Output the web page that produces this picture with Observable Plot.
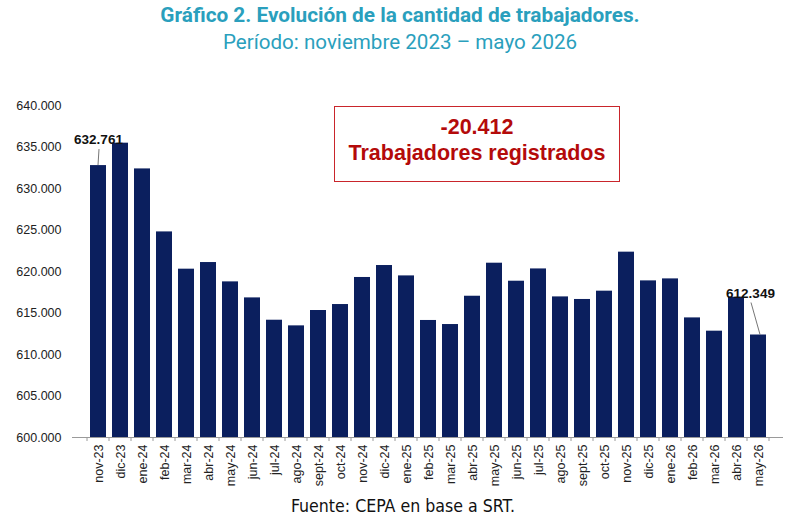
<!DOCTYPE html>
<html><head><meta charset="utf-8">
<script src="https://cdn.jsdelivr.net/npm/d3@7"></script>
<script src="https://cdn.jsdelivr.net/npm/@observablehq/plot@0.6"></script>
<style>
body{margin:0;background:#fff;}
#wrap{position:relative;width:800px;height:524px;overflow:hidden;background:#fff;}
.t{position:absolute;left:0;width:800px;text-align:center;font-family:Roboto,sans-serif;color:#2a9fbd;white-space:nowrap;line-height:1;}
#title{top:5px;font-size:20.8px;font-weight:700;}
#sub{top:32px;font-size:20.6px;font-weight:400;}
#box{position:absolute;left:334px;top:106px;width:286px;height:76px;border:1.5px solid #c9252b;box-sizing:border-box;
  font-family:"Liberation Sans",Arial,sans-serif;font-weight:700;color:#b40a0a;text-align:center;font-size:21.5px;line-height:1;}
#box div{position:absolute;left:0;width:100%;}
#cap{position:absolute;left:0;width:806px;text-align:center;top:498px;font-family:"Liberation Sans Narrow","DejaVu Sans Condensed",sans-serif;font-stretch:condensed;font-size:17.6px;color:#111;line-height:1;}
#chart{position:absolute;left:0;top:0;}
</style></head>
<body>
<div id="wrap">
  <div id="chart"></div>
  <div class="t" id="title">Gráfico 2. Evolución de la cantidad de trabajadores.</div>
  <div class="t" id="sub">Período: noviembre 2023 – mayo 2026</div>
  <div id="box"><div style="top:10px">-20.412</div><div style="top:36px">Trabajadores registrados</div></div>
  <div id="cap">Fuente: CEPA en base a SRT.</div>
</div>
<script>
const months = ["nov-23","dic-23","ene-24","feb-24","mar-24","abr-24","may-24","jun-24","jul-24","ago-24","sept-24","oct-24","nov-24","dic-24","ene-25","feb-25","mar-25","abr-25","may-25","jun-25","jul-25","ago-25","sept-25","oct-25","nov-25","dic-25","ene-26","feb-26","mar-26","abr-26","may-26"];
const workers = [632761,635460,632360,624770,620280,621080,618750,616820,614130,613450,615300,616020,619280,620720,619470,614100,613610,617020,621000,618830,620310,616940,616630,617630,622330,618870,619110,614410,612810,616900,612349];
const yTicks = [600000,605000,610000,615000,620000,625000,630000,635000,640000];
const yMin = 600000, yMax = 640000;

const data = months.map((m,i)=>({m, v: workers[i]}));
const fmt = d3.formatLocale({decimal:",",thousands:".",grouping:[3],currency:["$",""]}).format(",");
const first = data[0], last = data[data.length-1];

const plot = Plot.plot({
  width: 800, height: 524,
  marginTop: 105, marginBottom: 87, marginLeft: 72, marginRight: 17,
  style: {fontFamily: '"Liberation Sans", Arial, sans-serif', background: "transparent"},
  x: {domain: months, paddingInner: 0.29, paddingOuter: 0.145, label: null},
  y: {domain: [yMin, yMax], label: null},
  marks: [
    Plot.barY(data, {x: "m", y1: () => yMin, y2: "v", fill: "#0b1f5e"}),
    Plot.ruleY([yMin], {stroke: "#9a9a9a", strokeWidth: 1}),
    Plot.axisY({ticks: yTicks, tickFormat: fmt, tickSize: 0, tickPadding: 11, fontSize: 12.5, fill: "#222"}),
    Plot.axisX({tickSize: 0, tickRotate: -90, tickPadding: 7, fontSize: 12.5, fill: "#222"}),
    Plot.text([first], {x: "m", y: "v", text: d => fmt(d.v), lineAnchor: "bottom", dy: -22, fontWeight: 700, fontSize: 13.5, fill: "#111"}),
    Plot.text([last], {x: "m", y: "v", text: d => fmt(d.v), lineAnchor: "bottom", dy: -37, dx: -8, fontWeight: 700, fontSize: 13.5, fill: "#111"})
  ]
});
document.getElementById("chart").appendChild(plot);

// band-boundary tick marks and leader lines, from the scales
const xs = plot.scale("x"), ys = plot.scale("y");
const off = (xs.step - xs.bandwidth) / 2;
const svg = d3.select(plot);
const g = svg.append("g").attr("stroke", "#9a9a9a").attr("stroke-width", 1);
const y0 = ys.apply(yMin);
const bounds = months.map(m => xs.apply(m) - off).concat([xs.apply(months[months.length-1]) + xs.bandwidth + off]);
bounds.forEach(b => g.append("line").attr("x1", b).attr("x2", b).attr("y1", y0).attr("y2", y0 + 4));
const lg = svg.append("g").attr("stroke", "#666").attr("stroke-width", 0.9);
const cx0 = xs.apply(first.m) + xs.bandwidth / 2;
lg.append("line").attr("x1", cx0).attr("x2", cx0 + 1).attr("y1", ys.apply(first.v)).attr("y2", ys.apply(first.v) - 16);
const cx1 = xs.apply(last.m) + xs.bandwidth / 2;
lg.append("line").attr("x1", cx1 + 2).attr("x2", cx1 - 7).attr("y1", ys.apply(last.v)).attr("y2", ys.apply(last.v) - 32);
</script>
</body></html>
